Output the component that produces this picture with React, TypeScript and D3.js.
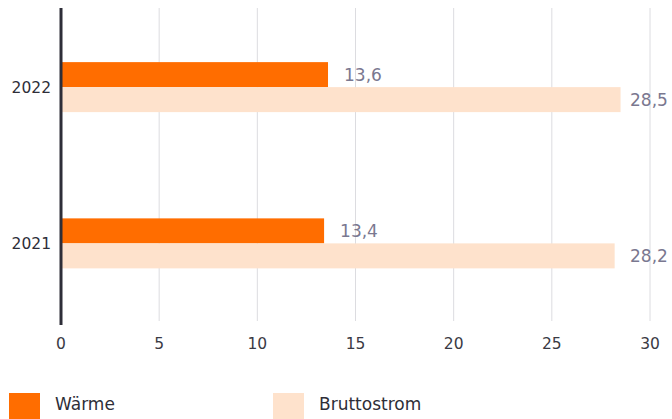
import React from "react";
import * as d3 from "d3";

const categories = ["2022", "2021"];
const seriesNames = ["Wärme", "Bruttostrom"];
const waerme = [13.6, 13.4];
const bruttostrom = [28.5, 28.2];
const xTicks = [0, 5, 10, 15, 20, 25, 30];
const colors = ["#ff6d00", "#fee2cc"];

const W = 672;
const H = 419;

export default function App() {
  const x = d3.scaleLinear().domain([0, 30]).range([61, 650]);
  const y = d3.scaleBand().domain(categories).range([9, 321.5]).paddingInner(0).paddingOuter(0);
  const fmt = (v: number) => v.toFixed(1).replace(".", ",");
  const font = "DejaVu Sans, sans-serif";
  const barH = 25;
  const series = [waerme, bruttostrom];
  return (
    <svg width={W} height={H} style={{ position: "absolute", left: 0, top: 0 }} fontFamily={font}>
      {xTicks.map((t) => (
        <g key={t}>
          {t > 0 && <line x1={x(t)} x2={x(t)} y1={8} y2={321} stroke="#dcdce0" strokeWidth={1} />}
          <text x={x(t)} y={349} textAnchor="middle" fontSize={15.5} fill="#3a3a44">{t}</text>
        </g>
      ))}
      {categories.map((c, i) => {
        const cy = (y(c) as number) + y.bandwidth() / 2;
        return (
          <g key={c}>
            <text x={51} y={cy + 5.5} textAnchor="end" fontSize={15.5} fill="#2e2e38">{c}</text>
            {series.map((s, j) => {
              const top = cy - barH + j * barH;
              return (
                <g key={j}>
                  <rect x={x(0)} y={top} width={x(s[i]) - x(0)} height={barH} fill={colors[j]} />
                  <text x={Math.min(x(s[i]) + 16, 630)} y={top + barH / 2 + 6} fontSize={17} fill="#7a7890">{fmt(s[i])}</text>
                </g>
              );
            })}
          </g>
        );
      })}
      <line x1={61} x2={61} y1={8} y2={325} stroke="#2e2e38" strokeWidth={3} />
      {seriesNames.map((n, j) => (
        <g key={n} transform={`translate(${9 + j * 264},393)`}>
          <rect x={0} y={0} width={31} height={26} fill={colors[j]} />
          <text x={46} y={17} fontSize={17} fill="#2e2e38">{n}</text>
        </g>
      ))}
    </svg>
  );
}
